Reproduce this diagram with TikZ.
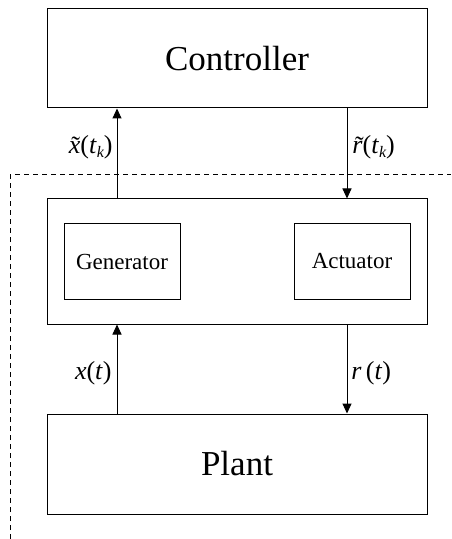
\documentclass[tikz,border=0pt]{standalone}
\usepackage{fontspec}
\setmainfont{Liberation Serif}
\usetikzlibrary{arrows.meta}
\newcommand{\lsub}[1]{\raisebox{-0.35ex}{\fontsize{8pt}{9pt}\selectfont\itshape #1}}
\newcommand{\tildeon}[1]{\leavevmode\rlap{\hspace{0.1em}\raisebox{-0.1ex}{\upshape\char"02DC}}\textit{#1}}
\begin{document}
\begin{tikzpicture}[x=0.5pt,y=-0.5pt,
  box/.style={draw,line width=0.5pt,rectangle,inner sep=0pt},
  arr/.style={line width=0.5pt,-{Triangle[length=5pt,width=4.5pt]}},
  lbl/.style={font=\fontsize{13pt}{15pt}\selectfont,inner sep=0pt}]
\useasboundingbox (0,0) rectangle (451,539);
\node[box,minimum width=190pt,minimum height=49.5pt,font=\fontsize{17.5pt}{20pt}\selectfont] (ctrl) at (237,58.5) {Controller};
\node[box,minimum width=190pt,minimum height=62.5pt] (mid) at (237,261.5) {};
\node[box,minimum width=58pt,minimum height=37.5pt,font=\fontsize{11.5pt}{13pt}\selectfont] (gen) at (122,261.5) {Generator};
\node[box,minimum width=58pt,minimum height=37.5pt,font=\fontsize{11.5pt}{13pt}\selectfont] (act) at (352,261.5) {Actuator};
\node[box,minimum width=190pt,minimum height=50pt,font=\fontsize{17.5pt}{20pt}\selectfont] (plant) at (237,464) {Plant};
\draw[arr] (mid.north -| 117,0) -- (ctrl.south -| 117,0);
\draw[arr] (ctrl.south -| 347,0) -- (mid.north -| 347,0);
\draw[arr] (plant.north -| 117,0) -- (mid.south -| 117,0);
\draw[arr] (mid.south -| 347,0) -- (plant.north -| 347,0);
\node[lbl,anchor=east] (lx) at (113,147) {\tildeon{x}(\textit{t}\lsub{k})};
\node[lbl,anchor=west] (lr) at (352,147) {\tildeon{r}(\textit{t}\lsub{k})};
\node[lbl,anchor=east] (lx2) at (112,373) {\textit{x}(\textit{t})};
\node[lbl,anchor=west] (lr2) at (351,373) {\textit{r}\,(\textit{t})};
\coordinate (d1) at (10,539);
\coordinate (d2) at (10,175);
\coordinate (d3) at (451,175);
\draw[line width=0.5pt,dash pattern=on 2.5pt off 2pt] (d1) -- (d2) -- (d3);
\end{tikzpicture}
\end{document}
